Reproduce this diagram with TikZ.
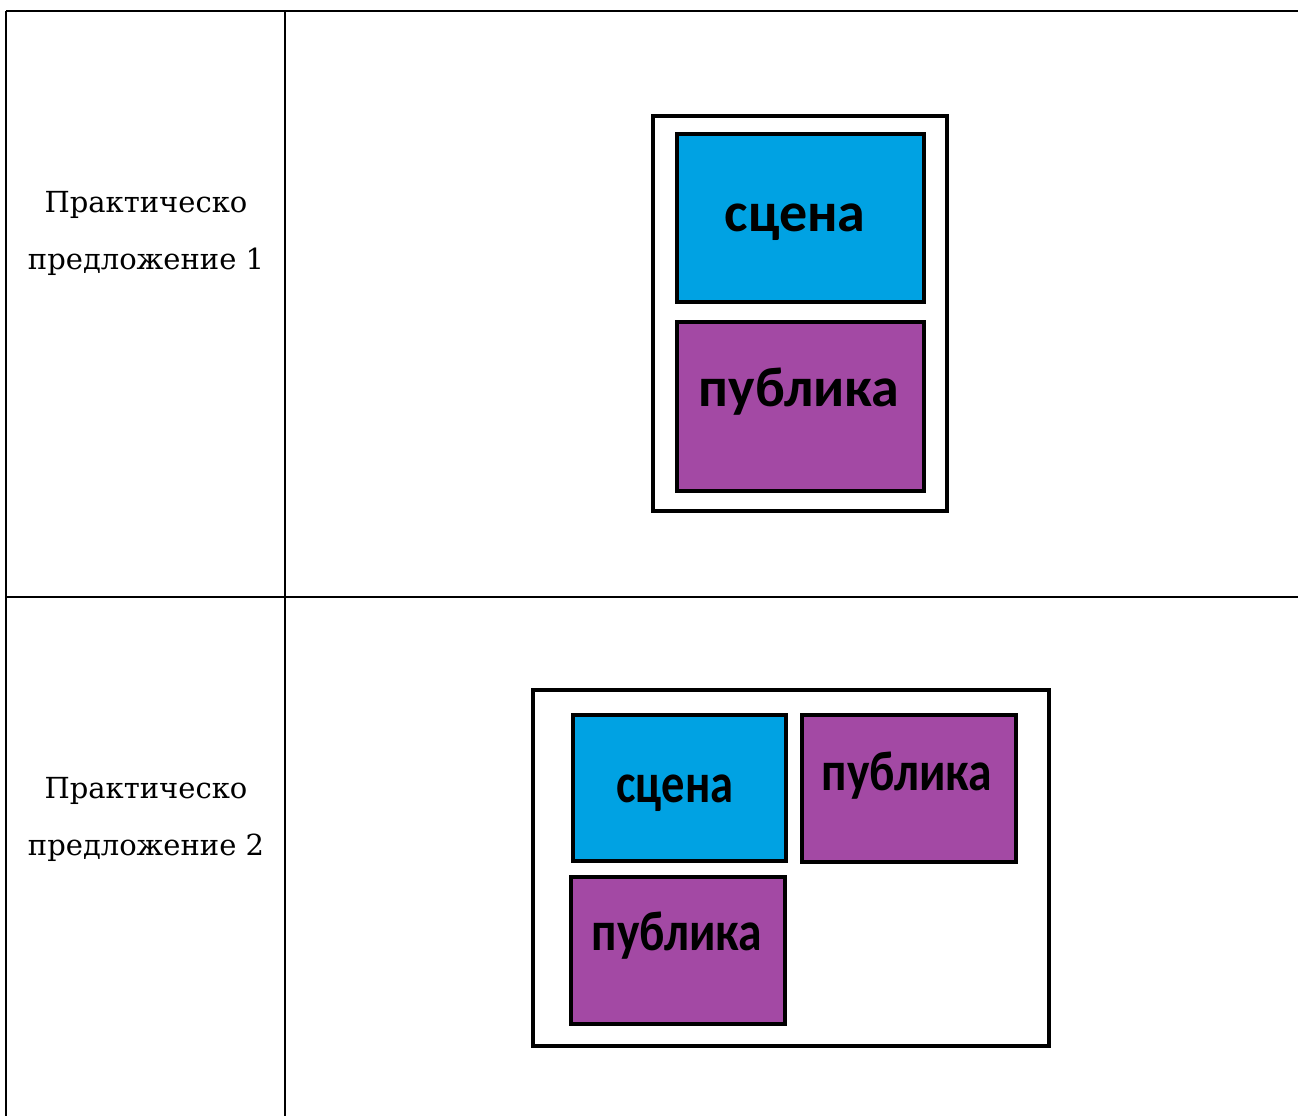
\documentclass[tikz,border=0pt]{standalone}
\usepackage{fontspec}
\setmainfont{DejaVu Serif}
\newfontfamily\labelfont{Carlito}
\definecolor{scenecolor}{HTML}{00A2E3}
\definecolor{audiencecolor}{HTML}{A349A4}

\begin{document}
\begin{tikzpicture}[x=1pt,y=-1pt,
  rule/.style={line width=2.8pt},
  hall/.style={draw,line width=3.5pt,inner sep=0pt},
  zonebox/.style={draw,line width=3.5pt,inner sep=0pt},
  zonetext/.style={anchor=base,font=\labelfont\bfseries\fontsize{56}{56}\selectfont},
  proposal/.style={align=center,font=\fontsize{29}{57}\selectfont}]
 \useasboundingbox (0,0) rectangle (1298,1116);
 % table
 \coordinate (tl) at (6,11);
 \coordinate (tr) at (1298,11);
 \coordinate (ml) at (6,597);
 \coordinate (mr) at (1298,597);
 \coordinate (bl) at (6,1116);
 \coordinate (ct) at (285,11);
 \coordinate (cb) at (285,1116);
 \draw [rule] (tl) -- (tr);
 \draw [rule] (ml) -- (mr);
 \draw [rule] (tl) -- (bl);
 \draw [rule] (ct) -- (cb);
 \node [proposal] (p1) at (146,233) {Практическо\\предложение 1};
 \node [proposal] (p2) at (146,819) {Практическо\\предложение 2};
 % proposal 1
 \node [hall, minimum width=294, minimum height=395] (hall1) at (800,313.5) {};
 \node [zonebox, fill=scenecolor, minimum width=247, minimum height=168] (scene1) at (800.5,218) {};
 \node [zonebox, fill=audiencecolor, minimum width=247, minimum height=169] (aud1) at (800.5,406.5) {};
 \node [zonetext] (scene1-text) at (795,231) {сцена};
 \node [zonetext] (aud1-text) at (799,406) {публика};
 % proposal 2
 \node [hall, minimum width=516, minimum height=356] (hall2) at (791,868) {};
 \node [zonebox, fill=scenecolor, minimum width=213, minimum height=146] (scene2) at (679.5,788) {};
 \node [zonebox, fill=audiencecolor, minimum width=214, minimum height=147] (aud2) at (909,788.5) {};
 \node [zonebox, fill=audiencecolor, minimum width=214, minimum height=147] (aud3) at (678,950.5) {};
 \node [zonetext, xscale=0.83] (scene2-text) at (675,802) {сцена};
 \node [zonetext, xscale=0.85] (aud2-text) at (907,790) {публика};
 \node [zonetext, xscale=0.85] (aud3-text) at (677,950) {публика};
\end{tikzpicture}
\end{document}
